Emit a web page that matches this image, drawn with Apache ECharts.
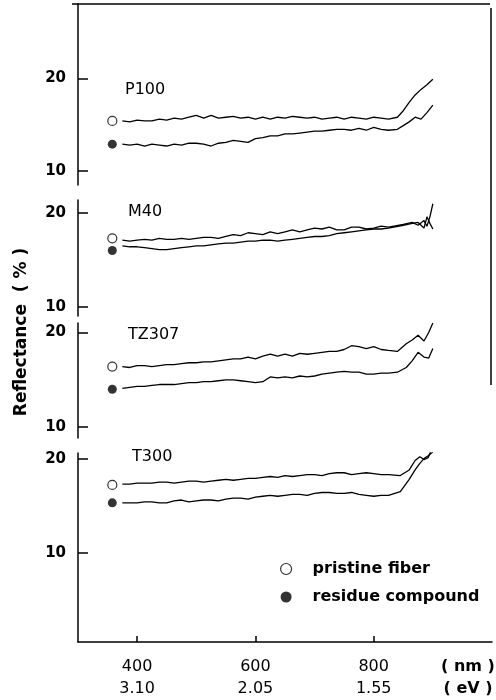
<!DOCTYPE html>
<html>
<head>
<meta charset="utf-8">
<script src="https://cdn.jsdelivr.net/npm/echarts@6/dist/echarts.min.js"></script>
<style>
html,body{margin:0;padding:0;background:#fff;}
#main{width:496px;height:700px;}
</style>
</head>
<body>
<div id="main"></div>
<script>
// panels, top to bottom
var panels = ['P100', 'M40', 'TZ307', 'T300'];

// wavelengths (nm) shared by the flat part of every curve
var baseNm = [375,387.5,400,412.5,425,437.5,450,462.5,475,487.5,500,512.5,525,537.5,550,562.5,575,587.5,600,612.5,625,637.5,650,662.5,675,687.5,700,712.5,725,737.5,750,762.5,775,787.5,800,812.5,825];

var p100Tail = [840,850,860,870,880,890,900];
var p100Pristine = [15.4,15.3,15.5,15.4,15.4,15.6,15.5,15.7,15.6,15.8,16.0,15.7,16.0,15.7,15.8,15.9,15.7,15.8,15.6,15.8,15.6,15.8,15.7,15.9,15.8,15.7,15.8,15.6,15.7,15.8,15.6,15.8,15.7,15.6,15.8,15.7,15.6,
	15.8,16.5,17.4,18.2,18.8,19.3,19.9];
var p100Residue = [12.9,12.8,12.9,12.7,12.9,12.8,12.7,12.9,12.8,13.0,13.0,12.9,12.7,13.0,13.1,13.3,13.2,13.1,13.5,13.6,13.8,13.8,14.0,14.0,14.1,14.2,14.3,14.3,14.4,14.5,14.5,14.4,14.6,14.4,14.7,14.5,14.4,
	14.5,14.9,15.3,15.8,15.6,16.3,17.1];

var m40Tail = [850,865,875,885,890,895,900];
var m40Pristine = [17.1,17.0,17.1,17.2,17.1,17.3,17.2,17.2,17.3,17.2,17.3,17.4,17.4,17.3,17.5,17.7,17.6,17.9,17.8,17.7,18.0,17.8,18.0,18.2,18.0,18.2,18.4,18.3,18.5,18.2,18.2,18.5,18.5,18.3,18.4,18.6,18.5,
	18.8,19.0,18.7,19.2,18.6,19.6,21.0];
var m40Residue = [16.5,16.4,16.4,16.3,16.2,16.1,16.1,16.2,16.3,16.4,16.5,16.5,16.6,16.7,16.8,16.8,16.9,17.0,17.0,17.1,17.1,17.0,17.1,17.2,17.3,17.4,17.5,17.5,17.6,17.8,17.9,18.0,18.1,18.2,18.3,18.3,18.4,
	18.7,18.9,19.0,18.4,19.6,18.9,18.3];

var tz307Tail = [840,855,865,875,885,893,900];
var tz307Pristine = [16.4,16.3,16.5,16.5,16.4,16.5,16.6,16.6,16.7,16.8,16.8,16.9,16.9,17.0,17.1,17.2,17.2,17.4,17.2,17.5,17.7,17.5,17.7,17.5,17.8,17.7,17.8,17.9,18.0,18.0,18.2,18.6,18.5,18.3,18.5,18.2,18.1,
	18.0,18.8,19.2,19.7,19.1,20.0,21.0];
var tz307Residue = [14.1,14.2,14.3,14.3,14.4,14.5,14.5,14.5,14.6,14.7,14.7,14.8,14.8,14.9,15.0,15.0,14.9,14.8,14.7,14.8,15.3,15.2,15.3,15.2,15.4,15.3,15.4,15.6,15.7,15.8,15.9,15.8,15.8,15.6,15.6,15.7,15.7,
	15.8,16.3,17.0,17.9,17.4,17.3,18.3];

var t300Tail = [845,860,870,878,885,892,900];
var t300Pristine = [17.3,17.3,17.4,17.4,17.4,17.5,17.5,17.4,17.5,17.6,17.6,17.5,17.6,17.7,17.8,17.7,17.8,17.9,17.9,18.0,18.1,18.0,18.2,18.1,18.2,18.3,18.3,18.2,18.4,18.5,18.5,18.3,18.4,18.5,18.4,18.3,18.3,
	18.2,18.8,19.8,20.2,19.9,20.1,21.3];
var t300Residue = [15.3,15.3,15.3,15.4,15.4,15.3,15.3,15.5,15.6,15.4,15.5,15.6,15.6,15.5,15.7,15.8,15.8,15.7,15.9,16.0,16.1,16.0,16.1,16.2,16.2,16.1,16.3,16.4,16.4,16.3,16.3,16.4,16.2,16.1,16.0,16.1,16.1,
	16.5,17.8,18.8,19.5,20.0,20.3,20.7];

// start markers (open = pristine fiber, filled = residue compound)
var markNm = 358;
var pristineMark = [15.4, 17.3, 16.4, 17.2];
var residueMark = [12.9, 16.0, 14.0, 15.3];

// tick labels
var yTicks = [10, 20];
var nmTicks = [400, 600, 800];
var evTicks = ['3.10', '2.05', '1.55'];

var tailList = [p100Tail, m40Tail, tz307Tail, t300Tail];
var pristineList = [p100Pristine, m40Pristine, tz307Pristine, t300Pristine];
var residueList = [p100Residue, m40Residue, tz307Residue, t300Residue];

// layout of the four stacked panels
var gridTop = [4, 200, 323, 453];
var gridHeight = [181, 116, 115, 189];
var yMin = [8.5, 9, 8.85, 0.5];
var yMax = [28, 21.4, 21, 20.6];
var labelPos = [[125, 82], [128, 204], [128, 327], [132, 449]];

var FONT = '"DejaVu Sans", Verdana, sans-serif';

function zip(xs, ys) {
	var out = [];
	for (var i = 0; i < xs.length; i++) out.push([xs[i], ys[i]]);
	return out;
}

var grids = [], xAxes = [], yAxes = [], series = [], graphics = [];

for (var i = 0; i < 4; i++) {
	var last = (i == 3);
	var nm = baseNm.concat(tailList[i]);
	grids.push({left: 78, right: 4, top: gridTop[i], height: gridHeight[i]});
	xAxes.push({
		gridIndex: i, type: 'value', min: 300, max: 1000,
		show: last,
		splitLine: {show: false},
		axisLine: {show: last, lineStyle: {color: '#000', width: 1.5}},
		axisTick: {show: last, inside: true, length: 6, customValues: nmTicks, lineStyle: {color: '#000', width: 1.5}},
		axisLabel: {
			show: last, customValues: nmTicks, margin: 14,
			color: '#000', fontFamily: FONT, fontSize: 16, lineHeight: 22,
			formatter: function (v) {
				var k = nmTicks.indexOf(v);
				return v + '\n' + (k > -1 ? evTicks[k] : '');
			}
		}
	});
	yAxes.push({
		gridIndex: i, type: 'value', min: yMin[i], max: yMax[i],
		splitLine: {show: false},
		axisLine: {show: true, lineStyle: {color: '#000', width: 1.5}},
		axisTick: {show: true, inside: true, length: 10, customValues: yTicks, lineStyle: {color: '#000', width: 1.5}},
		axisLabel: {customValues: yTicks, margin: 12, color: '#000', fontFamily: FONT, fontSize: 15, fontWeight: 'bold'}
	});
	series.push({
		name: panels[i] + ' pristine', type: 'line', xAxisIndex: i, yAxisIndex: i,
		data: zip(nm, pristineList[i]), showSymbol: false, silent: true,
		lineStyle: {color: '#000', width: 1.3}
	});
	series.push({
		name: panels[i] + ' residue', type: 'line', xAxisIndex: i, yAxisIndex: i,
		data: zip(nm, residueList[i]), showSymbol: false, silent: true,
		lineStyle: {color: '#000', width: 1.3}
	});
	series.push({
		name: 'pristine fiber', type: 'scatter', xAxisIndex: i, yAxisIndex: i,
		data: [[markNm, pristineMark[i]]], symbol: 'circle', symbolSize: 9,
		itemStyle: {color: '#fff', borderColor: '#000', borderWidth: 1.2}
	});
	series.push({
		name: 'residue compound', type: 'scatter', xAxisIndex: i, yAxisIndex: i,
		data: [[markNm, residueMark[i]]], symbol: 'circle', symbolSize: 9,
		itemStyle: {color: '#000'}
	});
	graphics.push({
		type: 'text', left: labelPos[i][0], top: labelPos[i][1],
		style: {text: panels[i], font: '16px ' + FONT, fill: '#000'}
	});
}

// frame pieces of the original figure
graphics.push({type: 'line', shape: {x1: 72, y1: 4, x2: 490, y2: 4}, style: {stroke: '#000', lineWidth: 1.5}});
graphics.push({type: 'line', shape: {x1: 491, y1: 8, x2: 491, y2: 385}, style: {stroke: '#000', lineWidth: 1.5}});
graphics.push({
	type: 'text', x: 22, y: 332, rotation: Math.PI / 2,
	style: {text: 'Reflectance  ( % )', font: 'bold 17px ' + FONT, fill: '#000', align: 'center', verticalAlign: 'middle'}
});
graphics.push({type: 'text', x: 468, y: 667, style: {text: '( nm )', font: 'bold 16px ' + FONT, fill: '#000', align: 'center', verticalAlign: 'middle'}});
graphics.push({type: 'text', x: 468, y: 689, style: {text: '( eV )', font: 'bold 16px ' + FONT, fill: '#000', align: 'center', verticalAlign: 'middle'}});

var myChart = echarts.init(document.getElementById('main'));
var option = {
	backgroundColor: '#fff',
	animation: false,
	grid: grids,
	xAxis: xAxes,
	yAxis: yAxes,
	legend: {
		orient: 'vertical', left: 280, top: 561, itemGap: 12, padding: 0,
		itemWidth: 11, itemHeight: 11,
		textStyle: {color: '#000', fontFamily: FONT, fontSize: 16, fontWeight: 'bold', padding: [0, 0, 0, 16]},
		data: [
			{name: 'pristine fiber', icon: 'circle', itemStyle: {color: '#fff', borderColor: '#000', borderWidth: 1.2}},
			{name: 'residue compound', icon: 'circle', itemStyle: {color: '#000'}}
		]
	},
	graphic: graphics,
	series: series
};
myChart.setOption(option);
</script>
</body>
</html>
